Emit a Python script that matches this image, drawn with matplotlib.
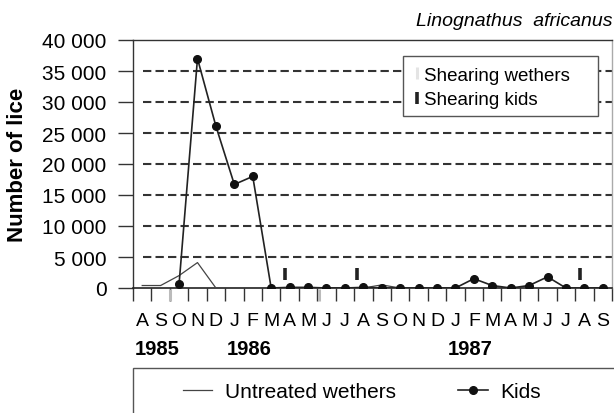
import matplotlib
matplotlib.use('Agg')
import matplotlib.pyplot as plt
import matplotlib.transforms as mtransforms
from matplotlib.lines import Line2D
from matplotlib.patches import Rectangle
import numpy as np

plt.rcParams['font.family'] = ['Liberation Sans', 'DejaVu Sans']
plt.rcParams['lines.scale_dashes'] = False

# ---------------- data ----------------
months = ['A', 'S', 'O', 'N', 'D', 'J', 'F', 'M', 'A', 'M', 'J', 'J', 'A',
          'S', 'O', 'N', 'D', 'J', 'F', 'M', 'A', 'M', 'J', 'J', 'A', 'S']
years = ['1985', '1986', '1987']
year_start = [0, 5, 17]          # month index where each year label starts

# Untreated wethers, Aug 1985 .. Sep 1987
wethers = [400, 400, 2000, 4100, 0, 0, 0, 0, 0, 0, 0, 0, 0,
           500, 0, 0, 0, 0, 0, 0, 0, 0, 0, 0, 0, 0]
# Kids, Oct 1985 .. Sep 1987
kids_start = 2
kids = [600, 37000, 26100, 16700, 18000, 0, 100, 100, 0, 0, 100, 0,
        0, 0, 0, 0, 1500, 400, 0, 400, 1800, 0, 0, 0]

# shearing dates (months since 1 Aug 1985)
shear_kids = [8.26, 12.17, 24.24]
shear_wethers = [2.0, 10.1]

y_ticks = [0, 5000, 10000, 15000, 20000, 25000, 30000, 35000, 40000]
y_ticklabels = ['0', '5 000', '10 000', '15 000', '20 000', '25 000',
                '30 000', '35 000', '40 000']

# ---------------- figure ----------------
W, H = 614, 414
fig = plt.figure(figsize=(W / 100, H / 100), dpi=100)
ax = fig.add_axes([133 / W, 1 - 289 / H, (612 - 133) / W, (289 - 41) / H])

n = len(months)
ax.set_xlim(0, n)
ax.set_ylim(0, 40000)

# dashed grid
for v in y_ticks[1:-1]:
    ax.axhline(v, xmin=10 / 479, xmax=1, color='#333333', lw=1.5,
               dashes=(6, 3), zorder=1)

x_w = np.arange(len(wethers)) + 0.5
x_k = np.arange(len(kids)) + kids_start + 0.5
lw_line, = ax.plot(x_w, wethers, color='#444444', lw=0.9,
                   label='Untreated wethers', zorder=3)
k_line, = ax.plot(x_k, kids, color='#222222', lw=1.2, marker='o', ms=5.5,
                  mfc='#111111', mec='#111111', label='Kids', zorder=4)

# shearing marks
ax.plot(shear_kids, [2200] * len(shear_kids), ls='none', marker='|',
        ms=8, mew=2.6, color='#222222', zorder=5, clip_on=False)
ax.plot(shear_wethers, [-1100] * len(shear_wethers), ls='none', marker='|',
        ms=8, mew=2.2, color='#bbbbbb', zorder=5, clip_on=False)

# ticks: labels on month centres (major), tick marks on month boundaries (minor)
ax.set_xticks(np.arange(n) + 0.5)
ax.set_xticklabels(months, fontsize=14)
ax.set_xticks(np.arange(n + 1), minor=True)
ax.tick_params(axis='x', which='major', length=0, pad=17)
ax.tick_params(axis='x', which='minor', direction='out', length=9,
               width=1, color='#333333')
ax.set_yticks(y_ticks)
ax.set_yticklabels(y_ticklabels, fontsize=15)
ax.tick_params(axis='y', direction='out', length=11, width=1,
               color='#333333', pad=8)

for s in ['left', 'top']:
    ax.spines[s].set_color('#333333')
    ax.spines[s].set_linewidth(1)
ax.spines['bottom'].set_color('#222222')
ax.spines['bottom'].set_linewidth(1.2)
ax.spines['right'].set_color('#aaaaaa')
ax.spines['right'].set_linewidth(1)

# year labels
trans = mtransforms.blended_transform_factory(ax.transData, ax.transAxes)
for yr, i0 in zip(years, year_start):
    ax.text(i0 + 0.1, -0.266, yr, transform=trans, fontsize=14.5,
            fontweight='bold', ha='left', va='baseline')

fig.text(18 / W, 1 - 165 / H, 'Number of lice', rotation=90, fontsize=16,
         fontweight='bold', ha='center', va='center')
fig.text(612 / W, 1 - 22 / H, 'Linognathus  africanus', style='italic',
         fontsize=14, ha='right', va='center')

# inner legend (shearing)
ax.add_patch(Rectangle((403 / W, 1 - 117 / H), 195 / W, 60 / H,
                       transform=fig.transFigure, fc='white',
                       ec='#555555', lw=1, zorder=6, clip_on=False))
h_w = Line2D([], [], ls='none', marker='|', ms=8, mew=2.2, color='#e4e4e4')
h_k = Line2D([], [], ls='none', marker='|', ms=8, mew=2.6, color='#222222')
leg = ax.legend([h_w, h_k], ['Shearing wethers', 'Shearing kids'],
                loc='upper left', bbox_to_anchor=(403 / W, 1 - 57 / H),
                bbox_transform=fig.transFigure, frameon=False, fontsize=13.5,
                handlelength=0.4, handletextpad=0.15, borderpad=0.56,
                borderaxespad=0, labelspacing=0.41)
leg.set_zorder(7)

# bottom legend
fig.patches.append(Rectangle((133 / W, 1 - 420 / H), 500 / W, 51 / H,
                             transform=fig.transFigure, fill=False,
                             ec='#555555', lw=1))
fig.legend([lw_line, k_line], ['Untreated wethers', 'Kids'], loc='center',
           bbox_to_anchor=(362 / W, 1 - 393 / H), ncol=2, frameon=False,
           fontsize=15, handlelength=1.4, handletextpad=0.6,
           columnspacing=3.0)

fig.savefig('out.png', dpi=100)
